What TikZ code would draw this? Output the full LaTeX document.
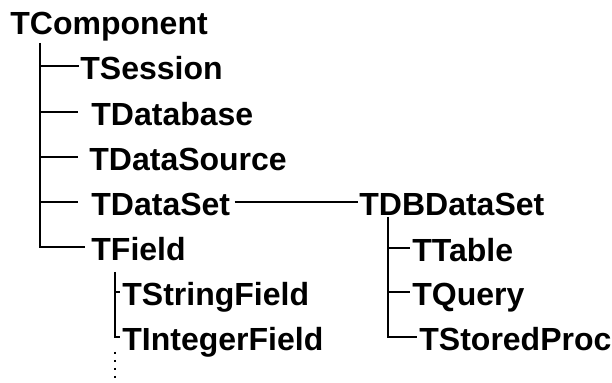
\documentclass[tikz,border=0pt]{standalone}
\usepackage{fontspec}
\setmainfont{Liberation Sans}
\usepackage{tikz}
\usetikzlibrary{positioning}

\begin{document}
\begin{tikzpicture}[
  x=0.5pt, y=-0.5pt,
  font=\fontsize{16}{18}\selectfont\bfseries,
  cls/.style={anchor=west, inner sep=0pt, text height=14pt, text depth=0pt},
  link/.style={line width=0.55pt},
  more/.style={line width=1pt, dash pattern=on 1pt off 3pt}
]
  \useasboundingbox (0,0) rectangle (612,383);
  % class names
  \node[cls] (comp) at (10,21) {TComponent};
  \node[cls] (session) at (80,66) {TSession};
  \node[cls] (database) at (91,112) {TDatabase};
  \node[cls] (source) at (89,157) {TDataSource};
  \node[cls] (dataset) at (91,202) {TDataSet};
  \node[cls] (field) at (91,247) {TField};
  \node[cls] (strfield) at (122,292) {TStringField};
  \node[cls] (intfield) at (122,337) {TIntegerField};
  \node[cls] (dbset) at (359,202) {TDBDataSet};
  \node[cls] (table) at (412,248) {TTable};
  \node[cls] (query) at (412,292) {TQuery};
  \node[cls] (proc) at (419,337) {TStoredProc};
  % branch points
  \coordinate (trunk) at (40,43);
  \coordinate (fbranch) at (115,272);
  \coordinate (fdots) at (115,352);
  \coordinate (fend) at (115,383);
  \coordinate (dbbranch) at (388,217);
  % TComponent descendants
  \draw[link, shorten >=0.5pt] (trunk |- session.west) -- (session.west);
  \draw[link, shorten >=6.5pt] (trunk |- database.west) -- (database.west);
  \draw[link, shorten >=5.5pt] (trunk |- source.west) -- (source.west);
  \draw[link, shorten >=6.5pt] (trunk |- dataset.west) -- (dataset.west);
  \draw[link, shorten >=3pt] (trunk) |- (field.west);
  \draw[link, shorten <=2pt, shorten >=0.5pt] (dataset.east) -- (dbset.west);
  % TField descendants
  \draw[link, shorten >=1pt] (fbranch |- strfield.west) -- (strfield.west);
  \draw[link, shorten >=1pt] (fbranch) |- (intfield.west);
  \draw[more] (fdots) -- (fend);
  % TDBDataSet descendants
  \draw[link, shorten >=1pt] (dbbranch |- table.west) -- (table.west);
  \draw[link, shorten >=1pt] (dbbranch |- query.west) -- (query.west);
  \draw[link, shorten >=1pt] (dbbranch) |- (proc.west);
\end{tikzpicture}
\end{document}
